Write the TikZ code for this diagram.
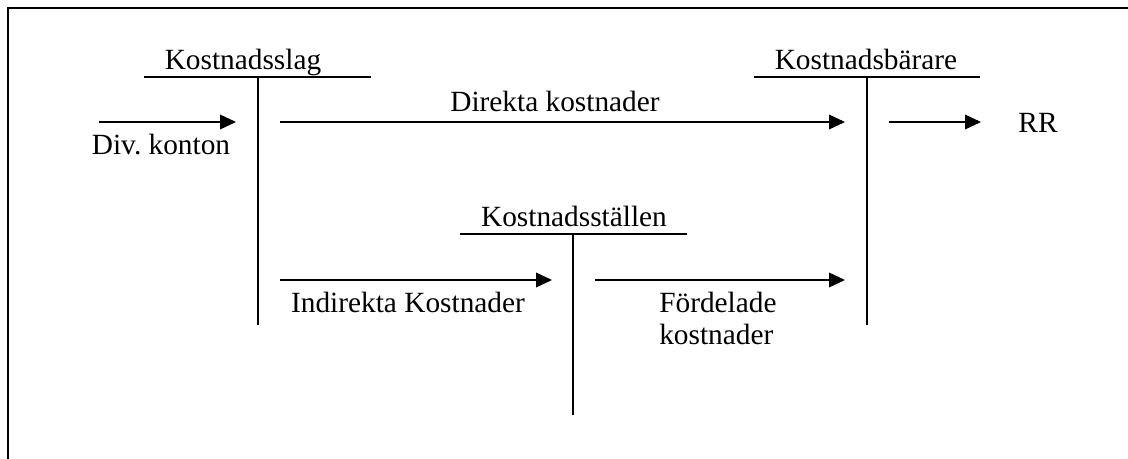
\documentclass[tikz,border=0pt]{standalone}
\usepackage{fontspec}
\setmainfont{Liberation Serif}
\frenchspacing
\usetikzlibrary{arrows.meta}
\tikzset{
  lbl/.style={anchor=base, inner sep=0pt, font=\fontsize{22}{32}\selectfont},
  tbar/.style={line width=1.1pt},
  flow/.style={->, line width=1.1pt}
}
\begin{document}
\begin{tikzpicture}[x=0.75pt, y=-0.75pt, >={Triangle[length=12pt,width=11pt]}]
      \useasboundingbox (0,0) rectangle (1128,459);
      \draw [line width=1.5pt] (8,459) -- (8,8) -- (1128,8);
      % T-konton
      \node[lbl] (slag) at (243,70) {Kostnadsslag};
      \node[lbl] (barare) at (866,70) {Kostnadsbärare};
      \node[lbl] (stallen) at (574,227) {Kostnadsställen};
      \coordinate (slagL) at (144,77);
      \coordinate (slagR) at (371,77);
      \coordinate (slagT) at (258,77);
      \coordinate (slagB) at (258,325);
      \coordinate (bararL) at (754,77);
      \coordinate (bararR) at (980,77);
      \coordinate (bararT) at (867,77);
      \coordinate (bararB) at (867,325);
      \coordinate (stalL) at (460,234);
      \coordinate (stalR) at (687,234);
      \coordinate (stalT) at (573,234);
      \coordinate (stalB) at (573,415);
      \draw [tbar] (slagL) -- (slagR) (slagT) -- (slagB);
      \draw [tbar] (bararL) -- (bararR) (bararT) -- (bararB);
      \draw [tbar] (stalL) -- (stalR) (stalT) -- (stalB);
      % flöden
      \coordinate (divA) at (99,122);
      \coordinate (divB) at (236,122);
      \coordinate (dirA) at (280,122);
      \coordinate (dirB) at (845,122);
      \coordinate (rrA) at (889,122);
      \coordinate (rrB) at (981,122);
      \coordinate (indA) at (280,280);
      \coordinate (indB) at (552,280);
      \coordinate (forA) at (595,280);
      \coordinate (forB) at (845,280);
      \draw [flow] (divA) -- (divB);
      \draw [flow] (dirA) -- (dirB);
      \draw [flow] (rrA) -- (rrB);
      \draw [flow] (indA) -- (indB);
      \draw [flow] (forA) -- (forB);
      \node[lbl] (div) at (161,155) {Div. konton};
      \node[lbl] (dir) at (555,112) {Direkta kostnader};
      \node[lbl] (rr) at (1038,133) {RR};
      \node[lbl] (ind) at (408,313) {Indirekta Kostnader};
      \node[lbl, anchor=base west] (for1) at (659,313) {Fördelade};
      \node[lbl, anchor=base west] (for2) at (659,345) {kostnader};
    \end{tikzpicture}
\end{document}
